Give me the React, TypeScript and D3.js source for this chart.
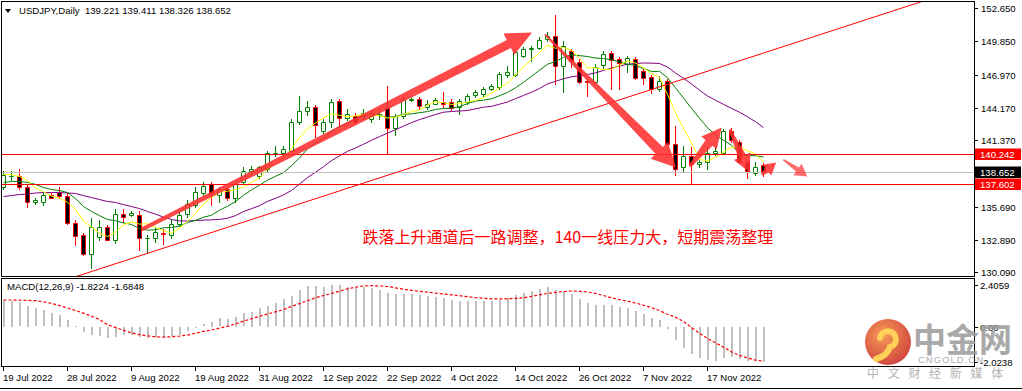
import * as d3 from "d3";
import { useEffect, useRef } from "react";

const W = 1022;
const H = 391;

// USDJPY daily, 19 Jul 2022 .. 25 Nov 2022
const opens = [
  137.42, 138.30, 138.28, 137.42, 136.06, 136.14, 136.74, 136.99, 136.65, 134.34,
  133.32, 131.69, 133.15, 133.92, 132.89, 135.11, 135.03, 135.03, 132.98, 132.98,
  133.49, 133.32, 134.26, 135.11, 135.88, 136.91, 137.68, 136.74, 137.17, 136.40,
  137.85, 138.71, 138.28, 138.88, 140.25, 140.25, 140.50, 142.90, 143.84, 144.18,
  142.13, 142.90, 144.70, 143.24, 143.41, 143.41, 143.16, 143.50, 144.10, 142.39,
  143.41, 144.78, 144.87, 144.18, 144.52, 144.61, 144.61, 144.18, 144.61, 145.21,
  145.29, 145.72, 145.89, 146.92, 146.92, 148.54, 149.14, 149.23, 150.00, 150.26,
  147.69, 148.97, 148.03, 146.45, 146.32, 147.78, 148.80, 148.29, 147.86, 148.29,
  147.26, 146.75, 145.72, 146.41, 141.02, 139.13, 139.99, 139.31, 139.56, 140.25,
  140.33, 142.21, 141.27, 139.56, 138.62, 139.221,
];
const highs = [
  138.71, 138.71, 138.96, 137.60, 136.40, 136.99, 136.83, 137.42, 136.83, 134.60,
  133.49, 134.69, 134.60, 134.17, 135.54, 135.54, 135.37, 135.29, 133.32, 133.92,
  133.75, 134.60, 135.29, 136.31, 137.34, 137.77, 137.77, 137.42, 137.34, 137.77,
  139.05, 139.14, 139.22, 140.42, 140.85, 140.85, 143.16, 145.12, 144.70, 144.35,
  143.16, 144.87, 144.87, 144.01, 143.75, 144.01, 143.84, 144.01, 145.98, 143.58,
  145.12, 145.04, 145.04, 144.78, 144.95, 145.47, 144.87, 144.87, 145.29, 145.64,
  145.89, 146.15, 147.18, 147.69, 148.97, 149.31, 149.40, 150.17, 150.60, 152.05,
  149.83, 149.14, 148.29, 146.58, 147.86, 148.97, 148.97, 148.46, 148.54, 148.46,
  147.43, 146.92, 146.83, 146.58, 142.56, 140.85, 140.76, 139.73, 140.76, 140.76,
  142.30, 142.39, 141.44, 139.73, 139.56, 139.411,
];
const lows = [
  137.25, 138.02, 137.25, 135.63, 135.97, 135.88, 136.40, 136.40, 134.26, 132.46,
  131.61, 130.50, 132.89, 132.81, 132.63, 134.43, 134.94, 132.03, 131.78, 132.72,
  132.55, 133.06, 134.09, 134.86, 135.71, 136.57, 135.88, 136.14, 136.31, 136.14,
  137.60, 138.45, 138.11, 138.71, 139.99, 140.08, 140.42, 142.73, 143.50, 141.62,
  141.96, 142.47, 142.56, 143.07, 142.81, 143.16, 142.90, 143.16, 140.33, 141.87,
  143.24, 144.70, 144.01, 144.01, 144.44, 144.18, 143.93, 143.58, 144.44, 145.04,
  145.12, 145.64, 145.72, 146.75, 146.83, 148.46, 148.12, 149.14, 149.83, 146.15,
  145.47, 147.60, 146.24, 145.12, 146.15, 147.52, 145.72, 145.72, 147.18, 146.58,
  146.15, 145.38, 145.55, 140.93, 138.45, 138.71, 137.60, 139.05, 138.88, 140.08,
  140.25, 141.27, 139.48, 138.11, 138.45, 138.326,
];
const closes = [
  138.45, 138.36, 137.42, 136.14, 136.23, 136.74, 136.48, 136.57, 134.34, 133.23,
  131.69, 134.00, 133.92, 132.89, 135.11, 134.86, 135.20, 132.98, 133.06, 133.57,
  133.40, 134.26, 135.03, 135.97, 136.99, 137.51, 136.91, 137.25, 136.48, 137.60,
  138.71, 138.88, 139.05, 140.25, 140.33, 140.67, 142.90, 143.84, 144.18, 142.64,
  142.90, 144.61, 143.24, 143.58, 142.98, 143.75, 143.67, 143.58, 142.39, 143.41,
  144.87, 144.87, 144.27, 144.52, 144.78, 144.52, 144.10, 144.70, 145.12, 145.47,
  145.72, 145.98, 147.00, 147.18, 148.89, 149.14, 149.23, 149.91, 150.26, 147.69,
  149.40, 148.12, 146.32, 146.40, 147.60, 148.72, 148.20, 147.95, 148.37, 146.66,
  146.66, 145.72, 146.41, 141.02, 138.88, 139.99, 139.39, 139.48, 140.25, 140.50,
  142.21, 141.44, 139.56, 138.71, 139.13, 138.652,
];

// moving averages at the left edge, where the window reaches back past the first bar
const ma5Head = [138.45, 138.45, 138.28, 137.94];
const ma10Head = [137.77, 137.85, 137.85, 137.77, 137.6, 137.34, 137.17, 137.08, 136.91];
const ma20Head = [
  136.57, 136.65, 136.74, 136.78, 136.87, 136.91, 136.91, 136.91, 136.87, 136.83,
  136.65, 136.48, 136.31, 136.14, 136.06, 135.88, 135.71, 135.54, 135.29,
];

// MACD(12,26,9): main (grey histogram) and signal (red dotted)
const macdMain = [
  1.54, 1.5, 1.41, 1.19, 1.06, 0.94, 0.77, 0.67, 0.39, 0.06,
  -0.29, -0.48, -0.52, -0.63, -0.58, -0.48, -0.44, -0.59, -0.63, -0.63,
  -0.59, -0.52, -0.44, -0.25, -0.04, 0.14, 0.29, 0.48, 0.44, 0.58,
  0.77, 0.87, 1.06, 1.21, 1.35, 1.6, 1.79, 2.12, 2.37, 2.37,
  2.31, 2.41, 2.38, 2.31, 2.31, 2.31, 2.21, 2.12, 1.93, 1.87,
  1.89, 1.89, 1.83, 1.77, 1.71, 1.64, 1.54, 1.48, 1.48, 1.48,
  1.48, 1.48, 1.54, 1.64, 1.83, 1.94, 2.08, 2.17, 2.27, 2.12,
  2.06, 1.89, 1.6, 1.35, 1.25, 1.25, 1.25, 1.13, 1.06, 0.91,
  0.71, 0.52, 0.39, -0.13, -0.77, -1.21, -1.58, -1.79, -1.88, -1.98,
  -1.79, -1.73, -1.83, -1.96, -1.98, -2.02,
];
const macdSignal = [
  1.54, 1.54, 1.53, 1.52, 1.5, 1.44, 1.34, 1.22, 1.08, 0.94,
  0.78, 0.61, 0.42, 0.12, -0.05, -0.2, -0.36, -0.46, -0.53, -0.58,
  -0.6, -0.58, -0.54, -0.48, -0.38, -0.27, -0.19, -0.08, 0.02, 0.16,
  0.32, 0.46, 0.6, 0.73, 0.86, 0.99, 1.17, 1.33, 1.5, 1.67,
  1.8, 1.92, 2.05, 2.18, 2.28, 2.35, 2.37, 2.35, 2.32, 2.24,
  2.16, 2.1, 2.04, 1.99, 1.94, 1.89, 1.84, 1.79, 1.73, 1.68,
  1.64, 1.61, 1.6, 1.61, 1.63, 1.67, 1.75, 1.84, 1.92, 1.98,
  2.03, 2.06, 2.04, 2.0, 1.92, 1.8, 1.67, 1.57, 1.47, 1.37,
  1.24, 1.1, 0.93, 0.72, 0.55, 0.3, -0.05, -0.38, -0.68, -0.92,
  -1.18, -1.45, -1.65, -1.8, -1.93, -1.98,
];
const macdReadout = "MACD(12,26,9) -1.8224 -1.6848";

const dateTickBars = [0, 8, 16, 24, 32, 40, 48, 56, 64, 72, 80, 88];
const dateLabels = [
  "19 Jul 2022", "28 Jul 2022", "9 Aug 2022", "19 Aug 2022", "31 Aug 2022", "12 Sep 2022",
  "22 Sep 2022", "4 Oct 2022", "14 Oct 2022", "26 Oct 2022", "7 Nov 2022", "17 Nov 2022",
];
const priceTicks = [152.65, 149.85, 146.97, 144.17, 141.37, 135.69, 132.89, 130.09];
const macdTicks = [2.4059, 0, -2.0238];
const macdTickLabels = ["2.4059", "0.00", "-2.0238"];

const resistance = 140.242;
const support = 137.602;
const lastPrice = 138.652;

// channel line through two (bar, price) anchors
const channelBars = [11, 95];
const channelPrices = [130.15, 148.83];

// hand-drawn arrows: [bar, price] from -> to
const arrowFrom = [[17.3, 133.75], [67.7, 150.43], [85.8, 139.13], [90.8, 142.3], [94.8, 138.45], [97.5, 139.73]];
const arrowTo = [[66.1, 150.6], [84.1, 139.05], [89.8, 142.47], [93.3, 138.62], [96.6, 139.47], [100.5, 138.28]];

const noteText = "跌落上升通道后一路调整，140一线压力大，短期震荡整理";
const notePos = [44.9, 132.62];

const App = () => {
  const svgRef = useRef<SVGSVGElement | null>(null);

  useEffect(() => {
    if (!svgRef.current) return;
    const svg = d3.select(svgRef.current);
    svg.selectAll("*").remove();

    const font = "'Liberation Sans', Arial, sans-serif";
    const fmt3 = d3.format(".3f");
    const n = closes.length;
    const x = d3.scaleLinear().domain([0, n - 1]).range([3.3, 763.3]);
    const cx = (i: number) => Math.floor(x(i)) + 0.5;
    const y = d3.scaleLinear().domain([130.09, 152.65]).range([272.3, 8.4]);
    const ym = d3.scaleLinear().domain([-2.0238, 2.4059]).range([361.8, 285]);
    const py = (v: number) => Math.round(y(v)) + 0.5;

    const sma = (len: number, head: number[]) =>
      closes.map((_, i) => (i < head.length ? head[i] : d3.mean(closes.slice(i - len + 1, i + 1))!));

    const defs = svg.append("defs");
    defs.append("clipPath").attr("id", "main-clip")
      .append("rect").attr("x", 2).attr("y", 2).attr("width", 972).attr("height", 274);
    defs.append("clipPath").attr("id", "macd-clip")
      .append("rect").attr("x", 2).attr("y", 279).attr("width", 972).attr("height", 87);
    const grad = defs.append("radialGradient").attr("id", "logo-grad").attr("cx", "40%").attr("cy", "35%").attr("r", "70%");
    grad.append("stop").attr("offset", "0%").attr("stop-color", "#f58a3a");
    grad.append("stop").attr("offset", "100%").attr("stop-color", "#c9231c");

    svg.append("rect").attr("width", W).attr("height", H).attr("fill", "#fff");

    // ---- main panel
    const main = svg.append("g").attr("clip-path", "url(#main-clip)");

    // candles
    const bars = d3.range(n);
    const bull = (i: number) => closes[i] >= opens[i];
    main.selectAll(".wick").data(bars).join("line")
      .attr("x1", cx).attr("x2", cx)
      .attr("y1", i => Math.round(y(highs[i])))
      .attr("y2", i => Math.round(y(lows[i])) + 1)
      .attr("stroke", i => (bull(i) ? "#008000" : "#ff0000"));
    main.selectAll(".body").data(bars).join("path")
      .attr("d", i => {
        const top = py(Math.max(opens[i], closes[i]));
        const bot = py(Math.min(opens[i], closes[i]));
        return `M${cx(i) - 2},${top}H${cx(i) + 2}V${bot}H${cx(i) - 2}Z`;
      })
      .attr("fill", i => (bull(i) ? "#fff" : "#000"))
      .attr("stroke", i => (bull(i) ? "#008000" : "#ff0000"));

    // moving averages
    const maLine = d3.line<number>().x((_, i) => cx(i)).y(v => y(v));
    [
      { vals: sma(20, ma20Head), color: "#800080" },
      { vals: sma(10, ma10Head), color: "#008000" },
      { vals: sma(5, ma5Head), color: "#ffff00" },
    ].forEach(ma => {
      main.append("path").attr("d", maLine(ma.vals)).attr("fill", "none")
        .attr("stroke", ma.color).attr("stroke-width", 1);
    });

    // levels
    main.append("line").attr("x1", 2).attr("x2", 974).attr("y1", py(lastPrice)).attr("y2", py(lastPrice))
      .attr("stroke", "#c0c0c0");
    [resistance, support].forEach(v => {
      main.append("line").attr("x1", 2).attr("x2", 974).attr("y1", py(v)).attr("y2", py(v))
        .attr("stroke", "#ff0000");
    });

    // channel line
    const slope = (channelPrices[1] - channelPrices[0]) / (channelBars[1] - channelBars[0]);
    const chan = (i: number) => channelPrices[0] + slope * (i - channelBars[0]);
    main.append("line")
      .attr("x1", x(-5)).attr("y1", y(chan(-5)))
      .attr("x2", x(130)).attr("y2", y(chan(130)))
      .attr("stroke", "#ff0000").attr("stroke-width", 1);

    // arrows
    const arrowStyle = [
      { w0: 2, w1: 4.5, hw: 12, head: 26, op: 0.88 },
      { w0: 1, w1: 5, hw: 12, head: 24, op: 0.88 },
      { w0: 1.5, w1: 4.5, hw: 10, head: 20, op: 0.88 },
      { w0: 1.2, w1: 4, hw: 9, head: 18, op: 0.88 },
      { w0: 1.2, w1: 3, hw: 7, head: 12, op: 0.88 },
      { w0: 0.8, w1: 2.5, hw: 7, head: 12, op: 0.7 },
    ];
    arrowFrom.forEach((from, k) => {
      const s = arrowStyle[k];
      const x0 = x(from[0]), y0 = y(from[1]);
      const x1 = x(arrowTo[k][0]), y1 = y(arrowTo[k][1]);
      const len = Math.hypot(x1 - x0, y1 - y0);
      const ux = (x1 - x0) / len, uy = (y1 - y0) / len;
      const nx = -uy, ny = ux;
      const sx = x1 - ux * s.head, sy = y1 - uy * s.head;
      const pts = [
        [x0 + nx * s.w0, y0 + ny * s.w0],
        [sx + nx * s.w1, sy + ny * s.w1],
        [sx + nx * s.hw, sy + ny * s.hw],
        [x1, y1],
        [sx - nx * s.hw, sy - ny * s.hw],
        [sx - nx * s.w1, sy - ny * s.w1],
        [x0 - nx * s.w0, y0 - ny * s.w0],
      ];
      main.append("path").attr("d", "M" + pts.map(p => p.join(",")).join("L") + "Z")
        .attr("fill", "#ff2f2f").attr("fill-opacity", s.op);
    });

    main.append("text").attr("x", x(notePos[0])).attr("y", y(notePos[1]))
      .attr("font-family", "'Noto Sans CJK SC', sans-serif").attr("font-size", 16)
      .attr("fill", "#ff0000").text(noteText);

    // header
    svg.append("path").attr("d", "M5,9H11L8,13Z").attr("fill", "#000");
    svg.append("text").attr("x", 19).attr("y", 14).attr("font-family", font).attr("font-size", 9.6)
      .attr("fill", "#000").style("white-space", "pre")
      .text(`USDJPY,Daily  ${fmt3(opens[n - 1])} ${fmt3(highs[n - 1])} ${fmt3(lows[n - 1])} ${fmt3(closes[n - 1])}`);

    // ---- MACD panel
    const macd = svg.append("g").attr("clip-path", "url(#macd-clip)");
    macd.selectAll(".hist").data(bars).join("rect")
      .attr("x", i => Math.floor(x(i)))
      .attr("width", 2)
      .attr("y", i => Math.round(Math.min(ym(0), ym(macdMain[i]))))
      .attr("height", i => Math.max(1, Math.round(Math.abs(ym(macdMain[i]) - ym(0)))))
      .attr("fill", "#c0c0c0");
    macd.append("path")
      .attr("d", d3.line<number>().x((_, i) => cx(i)).y(v => ym(v))(macdSignal))
      .attr("fill", "none").attr("stroke", "#ff0000").attr("stroke-width", 1.2)
      .attr("stroke-dasharray", "3,2");
    svg.append("text").attr("x", 7).attr("y", 290).attr("font-family", font).attr("font-size", 9.6)
      .attr("fill", "#000").text(macdReadout);

    // frames
    svg.append("rect").attr("x", 1.5).attr("y", 1.5).attr("width", 973).attr("height", 275)
      .attr("fill", "none").attr("stroke", "#000");
    svg.append("rect").attr("x", 1.5).attr("y", 278.5).attr("width", 973).attr("height", 88)
      .attr("fill", "none").attr("stroke", "#000");
    svg.append("line").attr("x1", 0).attr("x2", W).attr("y1", 388.5).attr("y2", 388.5).attr("stroke", "#000");

    // right price axis
    const axisG = svg.append("g").attr("font-family", font).attr("font-size", 9.6);
    priceTicks.forEach(v => {
      axisG.append("line").attr("x1", 974).attr("x2", 978).attr("y1", py(v)).attr("y2", py(v)).attr("stroke", "#000");
      axisG.append("text").attr("x", 981).attr("y", py(v)).attr("dy", "0.35em").text(fmt3(v));
    });
    [
      { v: resistance, bg: "#ff0000" },
      { v: lastPrice, bg: "#000000" },
      { v: support, bg: "#ff0000" },
    ].forEach(l => {
      axisG.append("rect").attr("x", 975).attr("y", py(l.v) - 6).attr("width", 46).attr("height", 11.5).attr("fill", l.bg);
      axisG.append("text").attr("x", 980).attr("y", py(l.v)).attr("dy", "0.35em").attr("fill", "#fff")
        .text(fmt3(l.v));
    });
    macdTicks.forEach((v, k) => {
      const yy = Math.round(ym(v)) + 0.5;
      axisG.append("line").attr("x1", 974).attr("x2", 978).attr("y1", yy).attr("y2", yy).attr("stroke", "#000");
      axisG.append("text").attr("x", 980).attr("y", yy).attr("dy", "0.35em").text(macdTickLabels[k]);
    });

    // date axis
    dateTickBars.forEach((b, k) => {
      axisG.append("line").attr("x1", cx(b)).attr("x2", cx(b)).attr("y1", 367).attr("y2", 371).attr("stroke", "#000");
      axisG.append("text").attr("x", cx(b) - 0.5).attr("y", 381).text(dateLabels[k]);
    });

    // watermark (sits over the corner, as in the source screenshot)
    const wm = svg.append("g").attr("opacity", 0.85);
    wm.append("circle").attr("cx", 888).attr("cy", 342).attr("r", 23).attr("fill", "url(#logo-grad)");
    wm.append("path")
      .attr("d", "M880,338 a8,8 0 1 1 10,9 q-3,9 -14,12")
      .attr("fill", "none").attr("stroke", "#ffc93c").attr("stroke-width", 6).attr("stroke-linecap", "round");
    wm.append("text").attr("x", 913).attr("y", 352).attr("font-family", "'Noto Sans CJK SC', sans-serif")
      .attr("font-size", 33).attr("font-weight", "bold").attr("fill", "#9b9b9b").text("中金网");
    wm.append("text").attr("x", 918).attr("y", 363).attr("font-family", font)
      .attr("font-size", 9.5).attr("letter-spacing", 1).attr("fill", "#a0a0a0").text("CNGOLD.CN");
    wm.append("text").attr("x", 867).attr("y", 378).attr("font-family", "'Noto Sans CJK SC', sans-serif")
      .attr("font-size", 12).attr("letter-spacing", 8.7).attr("fill", "#a8a8a8").text("中文财经新媒体");
  }, []);

  return (
    <svg ref={svgRef} width={W} height={H}
      style={{ position: "absolute", left: 0, top: 0, display: "block", background: "#fff" }} />
  );
};

export default App;
